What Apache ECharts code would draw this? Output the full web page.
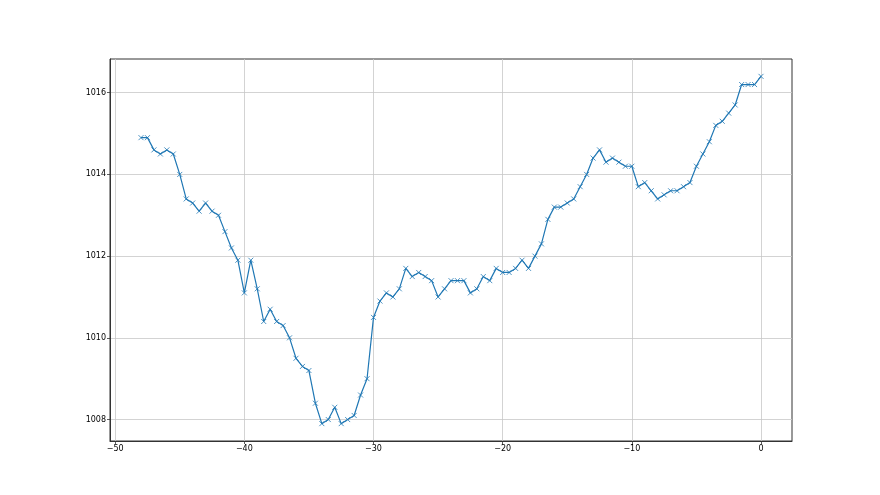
<!DOCTYPE html>
<html>
<head>
<meta charset="utf-8">
<script src="https://cdn.jsdelivr.net/npm/echarts@6/dist/echarts.min.js"></script>
<style>
  html, body { margin: 0; padding: 0; background: #fff; }
  #chart { width: 880px; height: 495px; }
</style>
</head>
<body>
<div id="chart"></div>
<script>
// hours before now, every half hour
const hours = [
  -48, -47.5, -47, -46.5, -46, -45.5, -45, -44.5, -44, -43.5, -43, -42.5,
  -42, -41.5, -41, -40.5, -40, -39.5, -39, -38.5, -38, -37.5, -37, -36.5,
  -36, -35.5, -35, -34.5, -34, -33.5, -33, -32.5, -32, -31.5, -31, -30.5,
  -30, -29.5, -29, -28.5, -28, -27.5, -27, -26.5, -26, -25.5, -25, -24.5,
  -24, -23.5, -23, -22.5, -22, -21.5, -21, -20.5, -20, -19.5, -19, -18.5,
  -18, -17.5, -17, -16.5, -16, -15.5, -15, -14.5, -14, -13.5, -13, -12.5,
  -12, -11.5, -11, -10.5, -10, -9.5, -9, -8.5, -8, -7.5, -7, -6.5,
  -6, -5.5, -5, -4.5, -4, -3.5, -3, -2.5, -2, -1.5, -1, -0.5, 0
];
const pressure = [
  1014.9, 1014.9, 1014.6, 1014.5, 1014.6, 1014.5, 1014.0, 1013.4, 1013.3, 1013.1, 1013.3, 1013.1,
  1013.0, 1012.6, 1012.2, 1011.9, 1011.1, 1011.9, 1011.2, 1010.4, 1010.7, 1010.4, 1010.3, 1010.0,
  1009.5, 1009.3, 1009.2, 1008.4, 1007.9, 1008.0, 1008.3, 1007.9, 1008.0, 1008.1, 1008.6, 1009.0,
  1010.5, 1010.9, 1011.1, 1011.0, 1011.2, 1011.7, 1011.5, 1011.6, 1011.5, 1011.4, 1011.0, 1011.2,
  1011.4, 1011.4, 1011.4, 1011.1, 1011.2, 1011.5, 1011.4, 1011.7, 1011.6, 1011.6, 1011.7, 1011.9,
  1011.7, 1012.0, 1012.3, 1012.9, 1013.2, 1013.2, 1013.3, 1013.4, 1013.7, 1014.0, 1014.4, 1014.6,
  1014.3, 1014.4, 1014.3, 1014.2, 1014.2, 1013.7, 1013.8, 1013.6, 1013.4, 1013.5, 1013.6, 1013.6,
  1013.7, 1013.8, 1014.2, 1014.5, 1014.8, 1015.2, 1015.3, 1015.5, 1015.7, 1016.2, 1016.2, 1016.2, 1016.4
];
const xTicks = [-50, -40, -30, -20, -10, 0];
const yTicks = [1008, 1010, 1012, 1014, 1016];

const chart = echarts.init(document.getElementById("chart"));

const plain = (v) => String(v).replace("-", "\u2212");

const axisCommon = {
  axisLine: { show: true, onZero: false, lineStyle: { color: "#333", width: 1 } },
  axisTick: { show: true, length: 3, lineStyle: { color: "#333", width: 0.8 } },
  axisLabel: {
    color: "#000",
    fontSize: 8,
    fontFamily: "DejaVu Sans",
    margin: 4,
    formatter: plain,
  },
  splitLine: { show: true, lineStyle: { color: "#c8c8c8", width: 0.8 } },
};

const option = {
  animation: false,
  grid: {
    left: 110,
    right: 88,
    top: 59,
    bottom: 54,
    show: true,
    borderColor: "#333",
    borderWidth: 1,
    backgroundColor: "transparent",
  },
  xAxis: {
    type: "value",
    min: -50.4,
    max: 2.4,
    ...axisCommon,
    axisTick: { ...axisCommon.axisTick, customValues: xTicks },
    axisLabel: { ...axisCommon.axisLabel, customValues: xTicks },
  },
  yAxis: {
    type: "value",
    min: 1007.475,
    max: 1016.825,
    ...axisCommon,
    axisTick: { ...axisCommon.axisTick, customValues: yTicks },
    axisLabel: { ...axisCommon.axisLabel, customValues: yTicks },
  },
  series: [
    {
      type: "line",
      data: hours.map((h, i) => [h, pressure[i]]),
      symbol: "path://M0,0L10,10M10,0L0,10",
      symbolSize: 5,
      showAllSymbol: true,
      lineStyle: { color: "#1f77b4", width: 1.2 },
      itemStyle: { color: "#1f77b4", borderColor: "#1f77b4", borderWidth: 0.8 },
    },
  ],
};

chart.setOption(option);
</script>
</body>
</html>
